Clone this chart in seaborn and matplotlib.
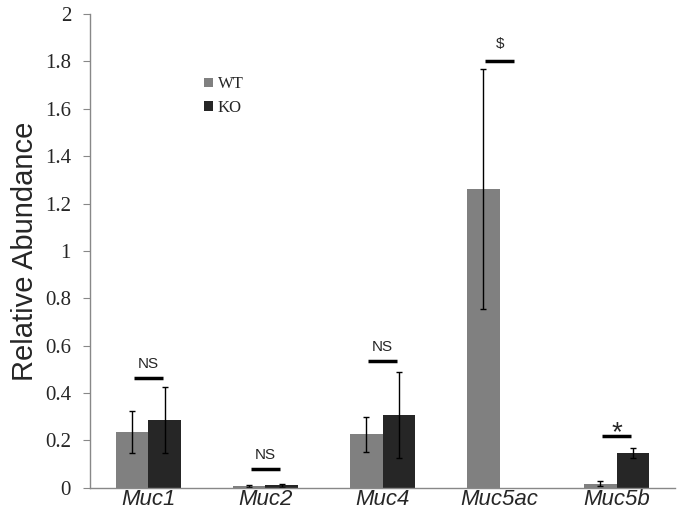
import matplotlib
matplotlib.use('Agg')
import matplotlib.pyplot as plt
import seaborn as sns
import numpy as np
import pandas as pd

genes = ['Muc1', 'Muc2', 'Muc4', 'Muc5ac', 'Muc5b']
wt_mean = [0.236, 0.009, 0.226, 1.263, 0.017]
wt_err = [0.087, 0.004, 0.074, 0.507, 0.011]
ko_mean = [0.288, 0.010, 0.308, 0.0, 0.146]
ko_err = [0.139, 0.007, 0.183, 0.0, 0.021]
sig_y = [0.465, 0.08, 0.535, 1.80, 0.22]
sig_labels = ['NS', 'NS', 'NS', '$', '*']

df = pd.DataFrame({
    'gene': genes * 2,
    'group': ['WT'] * 5 + ['KO'] * 5,
    'value': wt_mean + ko_mean,
})

sns.set_style('white')
fig = plt.figure(figsize=(6.8, 5.19), dpi=100)
ax = fig.add_axes([0.132, 0.06, 0.861, 0.913])

sns.barplot(data=df, x='gene', y='value', hue='group', palette=['#808080', '#262626'],
            width=0.56, errorbar=None, saturation=1, ax=ax, linewidth=0)

# error bars on top of the seaborn bars
for cont, err in zip(ax.containers, [wt_err, ko_err]):
    xs = [p.get_x() + p.get_width() / 2 for p in cont.patches]
    hs = [p.get_height() for p in cont.patches]
    for x, h, e in zip(xs, hs, err):
        if e > 0:
            ax.errorbar(x, h, yerr=e, color='black', lw=1, capsize=2.5, capthick=1)

# significance bars
for i, (y, lab) in enumerate(zip(sig_y, sig_labels)):
    ax.hlines(y, i - 0.125, i + 0.125, color='black', lw=2.5)
    if lab == '*':
        ax.text(i, y - 0.018, lab, ha='center', va='baseline', fontsize=20,
                family='Liberation Sans')
    else:
        off = 0.045 if lab == '$' else 0.03
        ax.text(i, y + off, lab, ha='center', va='bottom', fontsize=11,
                family='Liberation Sans')

ax.set_ylim(0, 2)
ax.set_xlim(-0.5, 4.5)
ax.set_yticks(np.arange(0, 2.01, 0.2))
ax.set_yticklabels(['0', '0.2', '0.4', '0.6', '0.8', '1', '1.2', '1.4', '1.6', '1.8', '2'],
                   family='Liberation Serif', fontsize=15)
ax.set_xticks(range(5))
ax.set_xticklabels(genes, family='Liberation Sans', style='italic', fontsize=16)
ax.set_xticks(np.arange(-0.5, 4.6, 1), minor=True)
ax.tick_params(axis='x', which='major', length=0, pad=1)
ax.tick_params(axis='x', which='minor', length=3.6, color='#888888', direction='out')
ax.tick_params(axis='y', length=5, color='#888888', direction='out', left=True, pad=8.5)
ax.set_xlabel('')
ax.set_ylabel('Relative Abundance', family='Liberation Sans', fontsize=21, labelpad=4)

for s in ['top', 'right']:
    ax.spines[s].set_visible(False)
for s in ['left', 'bottom']:
    ax.spines[s].set_color('#888888')
    ax.spines[s].set_linewidth(1)

ax.legend(loc='upper left', bbox_to_anchor=(0.17, 0.9), frameon=False,
          prop={'family': 'Liberation Serif', 'size': 12},
          handlelength=0.5, handleheight=0.5, handletextpad=0.3, labelspacing=0.45)

fig.savefig('out.png', dpi=100)
